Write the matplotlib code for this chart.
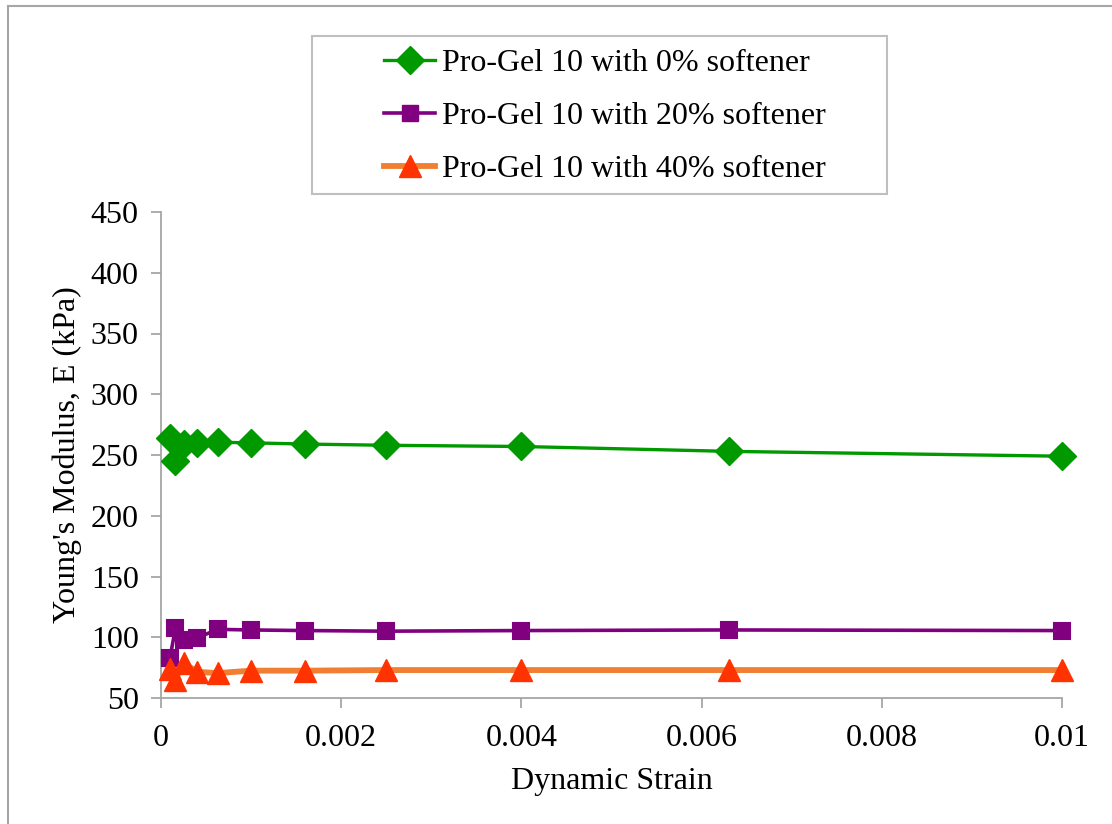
import matplotlib
matplotlib.use("Agg")
import matplotlib.pyplot as plt
from matplotlib.lines import Line2D
from matplotlib.patches import Rectangle

# Dynamic strain amplitudes and Young's modulus (kPa) per formulation
strain = [0.0001, 0.00016, 0.00025, 0.0004, 0.00063, 0.001,
          0.0016, 0.0025, 0.004, 0.0063, 0.01]
e_soft0 = [264, 245, 259, 260, 260.5, 260, 259, 258, 257, 253, 249]
e_soft20 = [83, 107.5, 97.5, 99.5, 106.5, 106, 105.5, 105, 105.5, 106, 105.5]
e_soft40 = [74, 65, 79, 71.5, 70.5, 72.5, 72.5, 73, 73, 73, 73]

labels = ["Pro-Gel 10 with 0% softener",
          "Pro-Gel 10 with 20% softener",
          "Pro-Gel 10 with 40% softener"]
xticks = [0, 0.002, 0.004, 0.006, 0.008, 0.01]
xticklabels = ["0", "0.002", "0.004", "0.006", "0.008", "0.01"]
yticks = [50, 100, 150, 200, 250, 300, 350, 400, 450]

plt.rcParams["font.family"] = ["Liberation Serif", "DejaVu Serif"]
FS = 23

fig = plt.figure(figsize=(11.12, 8.24), dpi=100)
ax = fig.add_axes([161 / 1112, 1 - 698 / 824, (1062 - 161) / 1112, (698 - 212) / 824])

GREEN = "#009900"
PURPLE = "#800080"
ORANGE_LINE = "#F07F32"
ORANGE_MK = "#FF3300"

ax.plot(strain, e_soft0, color=GREEN, lw=2.4, marker="D", ms=14,
        mfc=GREEN, mec=GREEN, clip_on=False, zorder=3)
ax.plot(strain, e_soft20, color=PURPLE, lw=2.6, marker="s", ms=12,
        mfc=PURPLE, mec=PURPLE, mew=1.5, clip_on=False, zorder=4)
ax.plot(strain, e_soft40, color=ORANGE_LINE, lw=4.2, marker="^", ms=16,
        mfc=ORANGE_MK, mec=ORANGE_MK, clip_on=False, zorder=5)

ax.set_xlim(0, 0.01)
ax.set_ylim(50, 450)
ax.set_xticks(xticks)
ax.set_xticklabels(xticklabels)
ax.set_yticks(yticks)

for side in ("top", "right"):
    ax.spines[side].set_visible(False)
for side in ("left", "bottom"):
    ax.spines[side].set_color("#a6a6a6")
    ax.spines[side].set_linewidth(1.3)
ax.tick_params(axis="both", direction="out", length=7, width=1.3,
               color="#a6a6a6", labelsize=FS, labelcolor="black")
ax.tick_params(axis="x", pad=12)
ax.tick_params(axis="y", pad=9)

ax.set_xlabel("Dynamic Strain", fontsize=FS, labelpad=10)
ax.set_ylabel("Young's Modulus, E (kPa)", fontsize=FS, labelpad=6)

# Legend without its own frame; the box is drawn separately
handles = [
    Line2D([], [], color=GREEN, lw=2.4, marker="D", ms=14, mfc=GREEN, mec=GREEN),
    Line2D([], [], color=PURPLE, lw=2.6, marker="s", ms=12, mfc=PURPLE, mec=PURPLE),
    Line2D([], [], color=ORANGE_LINE, lw=4.2, marker="^", ms=16, mfc=ORANGE_MK, mec=ORANGE_MK),
]
fig.legend(handles, labels, loc="upper left",
           bbox_to_anchor=(384 / 1112, 1 - 49 / 824), bbox_transform=fig.transFigure,
           frameon=False, fontsize=FS, handlelength=1.6, handletextpad=0.22,
           labelspacing=0.74, borderpad=0, borderaxespad=0)
fig.patches.append(Rectangle((312 / 1112, 1 - 194 / 824), (887 - 312) / 1112, (194 - 36) / 824,
                             transform=fig.transFigure, fill=False,
                             edgecolor="#bfbfbf", lw=1.5))

# Chart-area border (left and top edges)
fig.add_artist(Line2D([8 / 1112, 8 / 1112], [0, 1 - 6 / 824], transform=fig.transFigure,
                      color="#a6a6a6", lw=1.5))
fig.add_artist(Line2D([8 / 1112, 1], [1 - 6 / 824, 1 - 6 / 824], transform=fig.transFigure,
                      color="#a6a6a6", lw=1.5))

fig.savefig("out.png", dpi=100)
